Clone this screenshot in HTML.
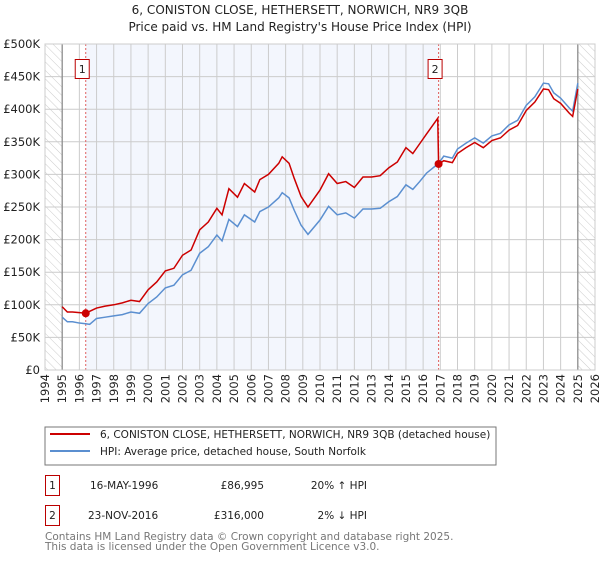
<!DOCTYPE html>
<html><head><meta charset="utf-8"><style>
body{margin:0;background:#fff;font-family:"DejaVu Sans","Liberation Sans",sans-serif;}
svg text{font-family:"DejaVu Sans","Liberation Sans",sans-serif;}
</style></head><body>
<svg id="chart" width="600" height="560" xmlns="http://www.w3.org/2000/svg">
<defs><pattern id="hatch" width="6" height="6" patternUnits="userSpaceOnUse" patternTransform="rotate(-45)"><line x1="0" y1="0" x2="0" y2="6" stroke="#ccc" stroke-width="1"/></pattern></defs>
<text x="300" y="14" text-anchor="middle" font-size="12" fill="#222">6, CONISTON CLOSE, HETHERSETT, NORWICH, NR9 3QB</text>
<text x="300" y="31" text-anchor="middle" font-size="12" fill="#222">Price paid vs. HM Land Registry's House Price Index (HPI)</text>
<g id="plot"></g>
<rect x="45" y="427" width="451" height="38" fill="#fff" stroke="#777"/>
<line x1="50" y1="434" x2="90" y2="434" stroke="#cc0000" stroke-width="2"/>
<text x="100" y="438" font-size="10.5" fill="#222">6, CONISTON CLOSE, HETHERSETT, NORWICH, NR9 3QB (detached house)</text>
<line x1="50" y1="451" x2="90" y2="451" stroke="#5b8fd0" stroke-width="2"/>
<text x="100" y="455" font-size="10.5" fill="#222">HPI: Average price, detached house, South Norfolk</text>
<g font-size="10.5" fill="#222">
<rect x="45.5" y="475.5" width="14" height="20" fill="#fff" stroke="#b00"/>
<text x="52.5" y="489" text-anchor="middle">1</text>
<text x="90" y="489">16-MAY-1996</text>
<text x="264" y="489" text-anchor="end">£86,995</text>
<text x="367" y="489" text-anchor="end">20% ↑ HPI</text>
<rect x="45.5" y="505.5" width="14" height="20" fill="#fff" stroke="#b00"/>
<text x="52.5" y="519" text-anchor="middle">2</text>
<text x="88" y="519">23-NOV-2016</text>
<text x="264" y="519" text-anchor="end">£316,000</text>
<text x="367" y="519" text-anchor="end">2% ↓ HPI</text>
</g>
<text x="45" y="540" font-size="10.5" fill="#777">Contains HM Land Registry data © Crown copyright and database right 2025.</text>
<text x="45" y="550" font-size="10.5" fill="#777">This data is licensed under the Open Government Licence v3.0.</text>
</svg>
<script>
const hpiYears=[1995.0,1995.3,1995.6,1996.0,1996.37,1996.6,1997.0,1997.5,1998.0,1998.5,1999.0,1999.5,2000.0,2000.5,2001.0,2001.5,2002.0,2002.5,2003.0,2003.5,2004.0,2004.3,2004.7,2005.2,2005.6,2006.2,2006.5,2007.0,2007.6,2007.8,2008.2,2008.5,2008.9,2009.1,2009.3,2010.0,2010.5,2011.0,2011.5,2012.0,2012.5,2013.0,2013.5,2014.0,2014.5,2015.0,2015.4,2015.8,2016.2,2016.9,2017.2,2017.7,2018.0,2018.5,2019.0,2019.5,2020.0,2020.5,2021.0,2021.5,2022.0,2022.5,2023.0,2023.3,2023.6,2024.0,2024.5,2024.7,2025.0];
const hpiValues=[81,74,74,72,71,70,79,81,83,85,89,87,102,112,126,130,146,153,179,189,207,198,231,220,238,227,243,250,264,272,264,245,222,215,208,230,251,238,241,233,247,247,248,258,266,284,277,289,302,317,328,325,339,348,356,348,359,363,376,383,406,419,440,439,425,417,402,397,440];
const priceYears=[1995.0,1995.3,1995.6,1996.0,1996.37,1996.6,1997.0,1997.5,1998.0,1998.5,1999.0,1999.5,2000.0,2000.5,2001.0,2001.5,2002.0,2002.5,2003.0,2003.5,2004.0,2004.3,2004.7,2005.2,2005.6,2006.2,2006.5,2007.0,2007.6,2007.8,2008.2,2008.5,2008.9,2009.1,2009.3,2010.0,2010.5,2011.0,2011.5,2012.0,2012.5,2013.0,2013.5,2014.0,2014.5,2015.0,2015.4,2015.8,2016.2,2016.85,2016.9,2017.2,2017.7,2018.0,2018.5,2019.0,2019.5,2020.0,2020.5,2021.0,2021.5,2022.0,2022.5,2023.0,2023.3,2023.6,2024.0,2024.5,2024.7,2025.0];
const priceValues=[97,89,89,88,87,90,95,98,100,103,107,105,123,135,152,156,176,184,215,227,248,238,278,265,286,273,292,300,317,327,317,294,266,258,250,276,301,286,289,280,296,296,298,310,319,341,332,347,362,386,316,321,318,332,341,349,341,352,356,368,375,398,411,431,430,416,409,394,389,431];
const sales=[{t:1996.37,v:86.995,n:'1'},{t:2016.9,v:316,n:'2'}];
const yTicks=[0,50,100,150,200,250,300,350,400,450,500];
const yTickLabels=['£0','£50K','£100K','£150K','£200K','£250K','£300K','£350K','£400K','£450K','£500K'];
const xTicks=[1994,1995,1996,1997,1998,1999,2000,2001,2002,2003,2004,2005,2006,2007,2008,2009,2010,2011,2012,2013,2014,2015,2016,2017,2018,2019,2020,2021,2022,2023,2024,2025,2026];

const X0=45,X1=595,Y0=370,Y1=44;
const x=t=>X0+(t-1994)/(2026-1994)*(X1-X0);
const y=v=>Y0-v/500*(Y0-Y1);
const NS='http://www.w3.org/2000/svg';
const g=document.getElementById('plot');
function mk(tag,attrs){const e=document.createElementNS(NS,tag);for(const k in attrs)e.setAttribute(k,attrs[k]);g.appendChild(e);return e;}
let e;
e=mk('rect',{x:x(1994),y:Y1,width:x(1995)-x(1994),height:Y0-Y1,fill:'url(#hatch)'});


e=mk('rect',{x:x(2025),y:Y1,width:x(2026)-x(2025),height:Y0-Y1,fill:'url(#hatch)'});


e=mk('rect',{x:x(sales[0].t),y:Y1,width:x(sales[1].t)-x(sales[0].t),height:Y0-Y1,fill:'#f3f6fd'});


yTicks.forEach((v,i)=>{
 e=mk('line',{x1:X0,x2:X1,y1:y(v),y2:y(v),stroke:'#ccc','stroke-width':1});
 
 
 e=mk('text',{x:40,y:y(v)+4,'text-anchor':'end','font-size':'11.5',fill:'#222'});e.textContent=yTickLabels[i];
 
 
});
xTicks.forEach(t=>{
 e=mk('line',{x1:x(t),x2:x(t),y1:Y1,y2:Y0,stroke:'#ccc','stroke-width':1});
 
 
 e=mk('text',{x:0,y:0,'text-anchor':'end','font-size':'11.5',fill:'#222',transform:`translate(${x(t)+4},374) rotate(-90)`});e.textContent=t;
 
 
});
[1995,2025].forEach(t=>{
 e=mk('line',{x1:x(t),x2:x(t),y1:Y1,y2:Y0,stroke:'#888','stroke-width':1.2});
 
 
});
sales.forEach(s=>{
 e=mk('line',{x1:x(s.t),x2:x(s.t),y1:Y1,y2:Y0,stroke:'#e06060','stroke-width':1,'stroke-dasharray':'2,2'});
 
 
});
e=mk('polyline',{points:hpiYears.map((t,i)=>x(t)+','+y(hpiValues[i])).join(' '),fill:'none',stroke:'#5b8fd0','stroke-width':1.5});


e=mk('polyline',{points:priceYears.map((t,i)=>x(t)+','+y(priceValues[i])).join(' '),fill:'none',stroke:'#cc0000','stroke-width':1.5});


sales.forEach(s=>{
 e=mk('circle',{cx:x(s.t),cy:y(s.v),r:4,fill:'#cc0000'});
 
 
 e=mk('rect',{x:x(s.t)-10.5,y:59.5,width:14,height:19,fill:'#fff',stroke:'#b00'});
 
 
 e=mk('text',{x:x(s.t)-3.5,y:73,'text-anchor':'middle','font-size':'11',fill:'#222'});e.textContent=s.n;
 
 
});
e=mk('rect',{x:X0,y:Y1,width:X1-X0,height:Y0-Y1,fill:'none',stroke:'#ccc'});


</script>
</body></html>
